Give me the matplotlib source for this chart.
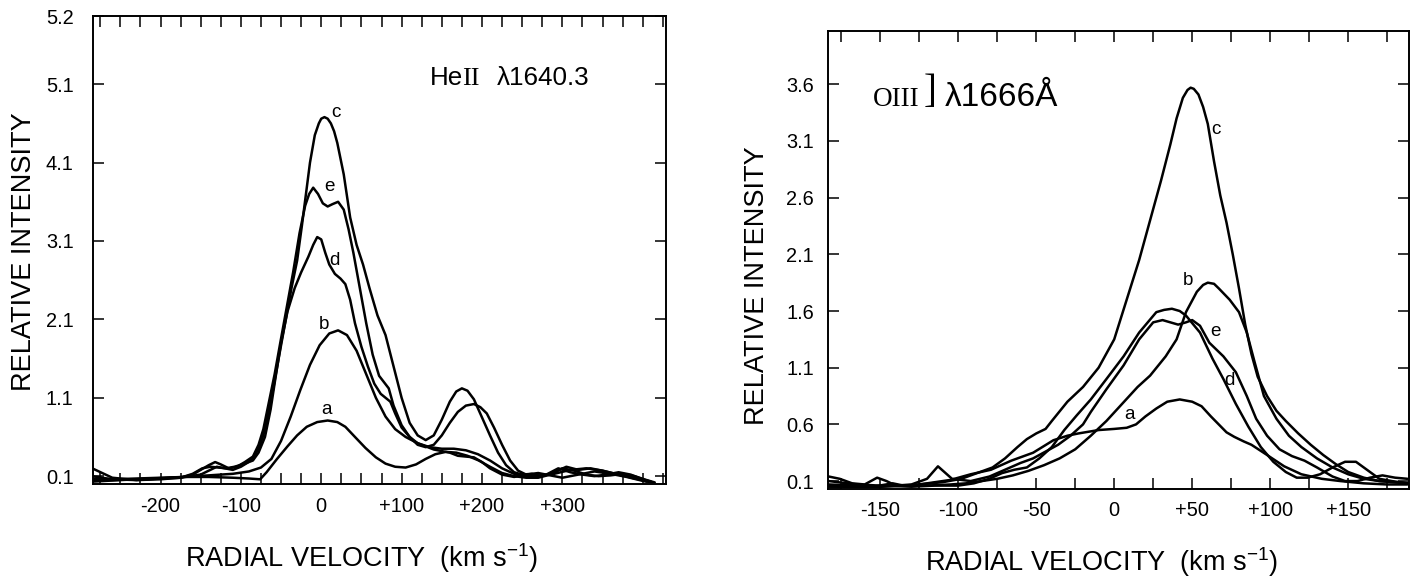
import numpy as np
import matplotlib
matplotlib.use("Agg")
import matplotlib.pyplot as plt
from matplotlib import font_manager

# ---------------- He II 1640.3 (left panel) ----------------
he_a_v = [-285, -260, -230, -200, -170, -140, -110, -90, -76, -68, -55, -42, -30, -18, -5, 8, 20, 30, 42,
          55, 68, 80, 92, 105, 118, 130, 142, 155, 168, 182, 196, 210, 225, 240, 255, 270, 285, 300, 315,
          330, 345, 360, 375, 390, 405, 415]
he_a_i = [0.07, 0.06, 0.07, 0.08, 0.09, 0.09, 0.08, 0.07, 0.06, 0.15, 0.32, 0.48, 0.62, 0.73, 0.79, 0.81,
          0.79, 0.73, 0.60, 0.46, 0.34, 0.26, 0.22, 0.21, 0.25, 0.32, 0.38, 0.41, 0.40, 0.36, 0.30, 0.22,
          0.14, 0.10, 0.08, 0.08, 0.12, 0.20, 0.17, 0.12, 0.10, 0.11, 0.13, 0.10, 0.05, 0.02]

he_b_v = [-285, -250, -210, -170, -140, -110, -90, -75, -62, -50, -38, -26, -14, -2, 10, 21, 32, 44, 56,
          68, 80, 92, 105, 120, 135, 150, 165, 180, 195, 210, 225, 240, 255, 270, 290, 310, 330, 350, 370,
          390, 410]
he_b_i = [0.03, 0.05, 0.07, 0.09, 0.11, 0.13, 0.16, 0.21, 0.32, 0.55, 0.86, 1.20, 1.52, 1.77, 1.92, 1.96,
          1.90, 1.70, 1.40, 1.10, 0.86, 0.70, 0.60, 0.52, 0.47, 0.45, 0.45, 0.43, 0.38, 0.30, 0.20, 0.13,
          0.10, 0.10, 0.13, 0.18, 0.20, 0.17, 0.12, 0.07, 0.03]

he_c_v = [-285, -260, -230, -200, -170, -150, -140, -130, -120, -110, -100, -92, -85, -78, -72, -66, -60,
          -53, -45, -37, -30, -24, -19, -14, -8, -3, 0, 4, 8, 12, 16, 20, 28, 36, 44, 52, 60, 70, 80, 90,
          100, 110, 120, 130, 140, 150, 160, 168, 175, 182, 190, 200, 210, 220, 230, 240, 250, 262, 275,
          290, 305, 320, 335, 350, 370, 390, 405]
he_c_i = [0.10, 0.06, 0.05, 0.07, 0.09, 0.12, 0.17, 0.22, 0.20, 0.18, 0.22, 0.27, 0.33, 0.45, 0.62, 0.90,
          1.20, 1.60, 2.05, 2.50, 2.85, 3.30, 3.70, 4.10, 4.45, 4.60, 4.66, 4.68, 4.66, 4.60, 4.50, 4.35,
          3.95, 3.40, 3.05, 2.80, 2.50, 2.15, 1.90, 1.50, 1.10, 0.78, 0.62, 0.56, 0.62, 0.82, 1.05, 1.18,
          1.22, 1.19, 1.08, 0.85, 0.62, 0.40, 0.24, 0.15, 0.12, 0.13, 0.10, 0.15, 0.22, 0.18, 0.20, 0.17,
          0.12, 0.08, 0.03]

he_d_v = [-285, -260, -230, -200, -175, -160, -148, -138, -128, -118, -108, -98, -90, -85, -78, -70, -63,
          -57, -50, -42, -33, -25, -16, -10, -5, 0, 5, 10, 17, 24, 30, 36, 42, 50, 58, 66, 74, 80, 86, 92,
          100, 110, 120, 130, 140, 150, 160, 170, 180, 190, 200, 210, 225, 240, 255, 270, 285, 300, 320,
          340, 360, 380, 400, 412]
he_d_i = [0.20, 0.08, 0.05, 0.06, 0.08, 0.13, 0.20, 0.22, 0.21, 0.20, 0.22, 0.25, 0.28, 0.30, 0.40, 0.60,
          0.95, 1.35, 1.80, 2.20, 2.50, 2.70, 2.90, 3.05, 3.15, 3.12, 2.95, 2.80, 2.68, 2.62, 2.55, 2.35,
          2.05, 1.75, 1.50, 1.28, 1.15, 1.10, 1.05, 0.90, 0.72, 0.60, 0.52, 0.48, 0.44, 0.42, 0.40, 0.36,
          0.35, 0.34, 0.28, 0.20, 0.12, 0.09, 0.12, 0.14, 0.11, 0.08, 0.12, 0.16, 0.13, 0.09, 0.04, 0.02]

he_e_v = [-285, -260, -230, -200, -175, -160, -150, -140, -132, -125, -115, -105, -95, -85, -78, -72, -65,
          -58, -51, -43, -35, -27, -20, -15, -10, -4, 2, 8, 14, 21, 28, 34, 40, 48, 56, 64, 72, 78, 84, 90,
          100, 110, 120, 130, 140, 150, 160, 170, 180, 190, 198, 206, 215, 225, 235, 245, 255, 265, 280,
          295, 310, 325, 340, 355, 370, 385, 400, 410]
he_e_i = [0.05, 0.05, 0.06, 0.07, 0.08, 0.12, 0.18, 0.24, 0.28, 0.25, 0.20, 0.22, 0.28, 0.35, 0.50, 0.70,
          1.05, 1.40, 1.80, 2.25, 2.70, 3.20, 3.55, 3.70, 3.78, 3.70, 3.58, 3.54, 3.57, 3.60, 3.50, 3.25,
          2.95, 2.50, 2.05, 1.65, 1.38, 1.30, 1.22, 1.00, 0.75, 0.60, 0.50, 0.47, 0.50, 0.62, 0.78, 0.92,
          1.00, 1.02, 0.98, 0.90, 0.72, 0.50, 0.30, 0.17, 0.12, 0.10, 0.12, 0.20, 0.15, 0.12, 0.10, 0.12,
          0.15, 0.12, 0.06, 0.03]

# ---------------- O III] 1666 (right panel) ----------------
o_a_v = [-183, -176, -168, -160, -152, -146, -140, -130, -120, -105, -92, -79, -66, -52, -39, -30, -23,
         -10, 0, 8, 14, 20, 27, 34, 42, 50, 56, 62, 67, 72, 77, 83, 88, 98, 109, 120, 133, 145, 160, 175, 188]
o_a_i = [0.14, 0.12, 0.08, 0.07, 0.13, 0.10, 0.06, 0.06, 0.08, 0.11, 0.16, 0.20, 0.28, 0.35, 0.46, 0.50,
         0.52, 0.55, 0.56, 0.57, 0.60, 0.67, 0.74, 0.80, 0.82, 0.80, 0.76, 0.67, 0.60, 0.53, 0.49, 0.45,
         0.42, 0.33, 0.23, 0.16, 0.12, 0.10, 0.08, 0.07, 0.07]

o_b_v = [-183, -165, -150, -135, -120, -105, -95, -85, -75, -65, -55, -45, -35, -25, -15, -5, 5, 15, 23,
         33, 40, 46, 53, 57, 60, 64, 67, 74, 80, 85, 90, 96, 104, 112, 120, 130, 140, 150, 160, 170, 180, 188]
o_b_i = [0.05, 0.05, 0.05, 0.06, 0.06, 0.07, 0.08, 0.10, 0.12, 0.15, 0.19, 0.24, 0.30, 0.38, 0.50, 0.63,
         0.78, 0.93, 1.03, 1.20, 1.35, 1.59, 1.77, 1.83, 1.85, 1.84, 1.80, 1.70, 1.59, 1.41, 1.15, 0.85,
         0.65, 0.50, 0.40, 0.30, 0.22, 0.16, 0.12, 0.10, 0.09, 0.08]

o_c_v = [-183, -170, -155, -142, -135, -125, -110, -98, -88, -78, -70, -62, -56, -50, -44, -40, -30, -20,
         -10, 0, 8, 16, 24, 30, 36, 40, 44, 47, 49, 51, 54, 57, 60, 64, 68, 72, 76, 80, 84, 88, 92, 98,
         104, 110, 118, 126, 134, 142, 150, 160, 170, 180, 188]
o_c_i = [0.06, 0.05, 0.05, 0.08, 0.06, 0.07, 0.09, 0.12, 0.17, 0.22, 0.30, 0.40, 0.47, 0.52, 0.56, 0.63,
         0.80, 0.93, 1.10, 1.35, 1.70, 2.05, 2.45, 2.75, 3.07, 3.30, 3.48, 3.55, 3.57, 3.56, 3.51, 3.40,
         3.25, 2.92, 2.62, 2.38, 2.10, 1.80, 1.48, 1.22, 1.02, 0.85, 0.72, 0.63, 0.52, 0.42, 0.33, 0.25,
         0.18, 0.13, 0.10, 0.09, 0.08]

o_d_v = [-183, -165, -150, -130, -115, -100, -90, -80, -72, -64, -56, -48, -40, -32, -24, -15, -5, 6, 16,
         27, 32, 37, 42, 46, 55, 63, 70, 78, 86, 94, 102, 110, 117, 124, 132, 140, 148, 155, 162, 170, 178, 188]
o_d_i = [0.10, 0.07, 0.06, 0.05, 0.06, 0.06, 0.08, 0.12, 0.17, 0.20, 0.22, 0.30, 0.40, 0.55, 0.68, 0.82,
         1.00, 1.20, 1.41, 1.59, 1.61, 1.62, 1.60, 1.56, 1.41, 1.18, 1.00, 0.78, 0.58, 0.40, 0.27, 0.18,
         0.13, 0.13, 0.16, 0.22, 0.27, 0.27, 0.20, 0.12, 0.10, 0.08]

o_e_v = [-183, -165, -150, -130, -120, -113, -104, -92, -80, -70, -60, -52, -44, -36, -28, -20, -15, -5,
         6, 16, 25, 31, 36, 41, 46, 50, 55, 61, 70, 78, 85, 91, 98, 106, 114, 122, 130, 140, 148, 156,
         164, 172, 180, 188]
o_e_i = [0.07, 0.06, 0.05, 0.07, 0.12, 0.23, 0.12, 0.10, 0.14, 0.20, 0.26, 0.30, 0.36, 0.42, 0.50, 0.60,
         0.71, 0.91, 1.12, 1.35, 1.50, 1.52, 1.50, 1.48, 1.50, 1.52, 1.47, 1.32, 1.20, 1.06, 0.85, 0.65,
         0.50, 0.38, 0.32, 0.28, 0.22, 0.14, 0.10, 0.10, 0.13, 0.15, 0.13, 0.12]

he_curves = [(he_a_v, he_a_i), (he_b_v, he_b_i), (he_c_v, he_c_i), (he_d_v, he_d_i), (he_e_v, he_e_i)]
o_curves = [(o_a_v, o_a_i), (o_b_v, o_b_i), (o_c_v, o_c_i), (o_d_v, o_d_i), (o_e_v, o_e_i)]

# curve letters and where they sit (velocity, intensity)
curve_names = ['a', 'b', 'c', 'd', 'e']
he_label_pos = [(6, 0.95), (4, 2.03), (18, 4.74), (17, 2.85), (10, 3.79)]
o_label_pos = [(10, 0.69), (47, 1.87), (65, 3.2), (74, 0.99), (65, 1.42)]

he_yticks = [0.1, 1.1, 2.1, 3.1, 4.1, 5.1]
o_yticks = [0.1, 0.6, 1.1, 1.6, 2.1, 2.6, 3.1, 3.6]
he_xticks = [-200, -100, 0, 100, 200, 300]
he_xlabels = ['-200', '-100', '0', '+100', '+200', '+300']
o_xticks = [-150, -100, -50, 0, 50, 100, 150]
o_xlabels = ['-150', '-100', '-50', '0', '+50', '+100', '+150']

# ---------------- fonts ----------------
names = {f.name for f in font_manager.fontManager.ttflist}
narrow = 'Liberation Sans Narrow' if 'Liberation Sans Narrow' in names else 'Liberation Sans'
shrink = 1.0 if narrow == 'Liberation Sans Narrow' else 0.85
plt.rcParams['font.family'] = ['Liberation Sans', 'DejaVu Sans']
plt.rcParams['mathtext.default'] = 'regular'
sans_n = [narrow, 'DejaVu Sans']
serif = ['Liberation Serif', 'DejaVu Serif']
tick_fs = 17 * shrink
lab_fs = 16 * shrink
axis_fs = 19.5

W, H = 1417, 578
fig = plt.figure(figsize=(W / 100, H / 100), dpi=100)


def px(x, y):
    return x / W, 1 - y / H


ax1 = fig.add_axes([93 / W, 1 - 484 / H, 573 / W, 468 / H])
ax2 = fig.add_axes([828 / W, 1 - 489 / H, 581 / W, 458 / H])

for ax, curves, labpos in [(ax1, he_curves, he_label_pos), (ax2, o_curves, o_label_pos)]:
    for v, i in curves:
        ax.plot(v, i, color='black', lw=1.8, solid_joinstyle='round', solid_capstyle='round')
    for name, (lv, li) in zip(curve_names, labpos):
        ax.text(lv, li, name, fontsize=lab_fs, family=sans_n, ha='center', va='center')
    for s in ax.spines.values():
        s.set_linewidth(1.4)
    ax.tick_params(which='both', direction='in', length=8, width=1.1, top=True, right=True,
                   labelsize=tick_fs)
    ax.tick_params(axis='x', pad=9)

ax1.tick_params(axis='y', pad=14)
ax2.tick_params(axis='y', pad=10)

ax1.set_xlim(-284, 429)
ax1.set_ylim(0, 5.97)
ax1.set_xticks(he_xticks)
ax1.set_xticks(np.arange(-275, 426, 25), minor=True)
ax1.set_xticklabels(he_xlabels)
ax1.set_yticks(he_yticks + [5.97])
ax1.set_yticklabels([str(t) for t in he_yticks] + ['5.2'])

ax2.set_xlim(-183.5, 189)
ax2.set_ylim(0.03, 4.07)
ax2.set_xticks(o_xticks)
ax2.set_xticks(np.arange(-175, 189, 25), minor=True)
ax2.set_xticklabels(o_xlabels)
ax2.set_yticks(o_yticks)
ax2.set_yticklabels([str(t) for t in o_yticks])

for ax in (ax1, ax2):
    for lab in ax.get_xticklabels() + ax.get_yticklabels():
        lab.set_family(sans_n)
        lab.set_fontsize(tick_fs)

# axis titles
fig.text(*px(24, 252), 'RELATIVE INTENSITY', rotation=90, ha='center', va='center', fontsize=axis_fs)
fig.text(*px(757, 286), 'RELATIVE INTENSITY', rotation=90, ha='center', va='center', fontsize=axis_fs)
fig.text(*px(362, 558), r'RADIAL VELOCITY  (km s$^{-1}$)', ha='center', va='center', fontsize=axis_fs)
fig.text(*px(1102, 562), r'RADIAL VELOCITY  (km s$^{-1}$)', ha='center', va='center', fontsize=axis_fs)

# line identifications
tsz = 22 * shrink
fig.text(*px(430, 85), 'He', ha='left', va='baseline', fontsize=tsz, family=sans_n)
fig.text(*px(462, 85), 'II', ha='left', va='baseline', fontsize=tsz, family=serif)
fig.text(*px(497, 85), '\u03bb1640.3', ha='left', va='baseline', fontsize=tsz, family=sans_n)

fig.text(*px(873, 106), 'OIII', ha='left', va='baseline', fontsize=19.5, family=serif)
fig.text(*px(930, 102), ']', ha='center', va='baseline', fontsize=28, family=serif)
fig.text(*px(945, 106), '\u03bb1666\u00c5', ha='left', va='baseline', fontsize=24,
         family=['Liberation Sans', 'DejaVu Sans'])

fig.savefig('out.png', dpi=100)
